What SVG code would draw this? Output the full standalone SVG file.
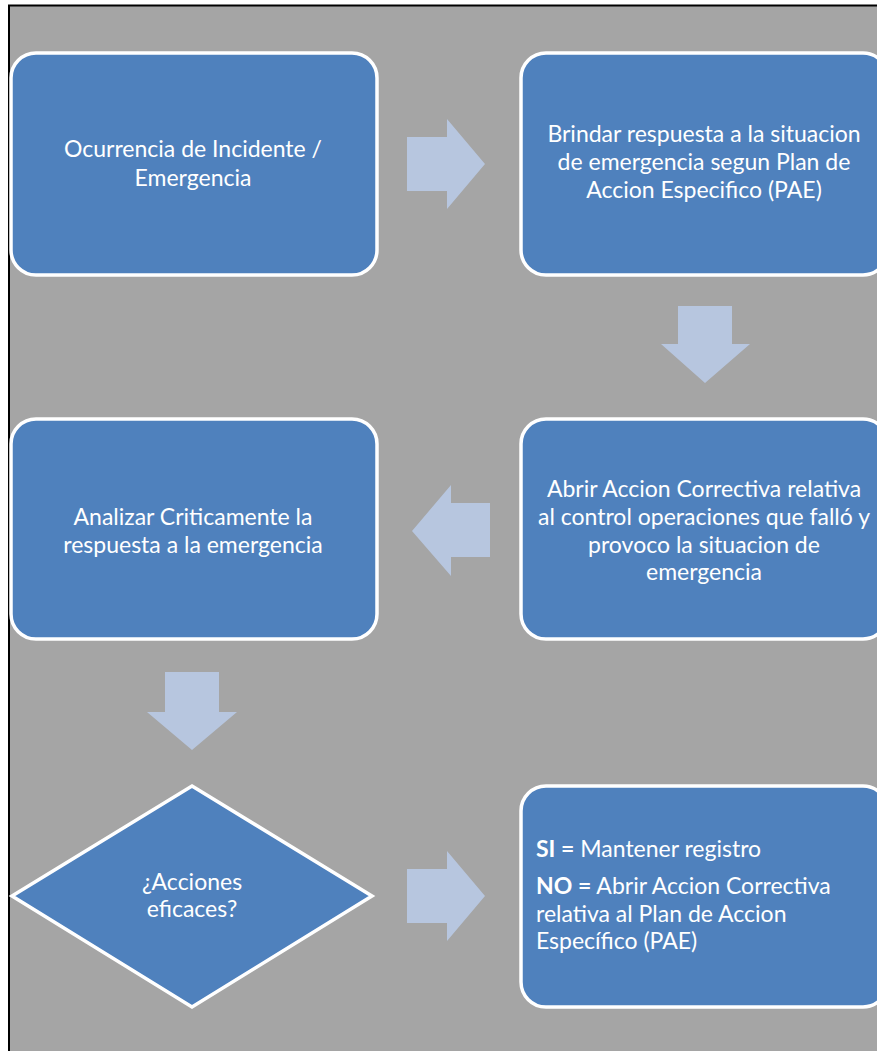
<svg xmlns="http://www.w3.org/2000/svg" width="877" height="1051" viewBox="0 0 877 1051">
  <defs>
    <style>
      .box { fill: #4F81BD; stroke: #FFFFFF; stroke-width: 3.5; }
      .arrow { fill: #B7C6DF; }
      .lbl { font-family: Lato, "Liberation Sans", sans-serif; font-size: 23px; fill: #FFFFFF; text-anchor: middle; }
      .lbl-left { font-family: Lato, "Liberation Sans", sans-serif; font-size: 23px; fill: #FFFFFF; }
      .b { font-weight: bold; }
    </style>
  </defs>

  <!-- canvas and frame -->
  <rect x="0" y="0" width="877" height="1051" fill="#FFFFFF"/>
  <rect x="9" y="5.5" width="868" height="1045.5" fill="#A5A5A5"/>
  <line x1="8" y1="5.5" x2="877" y2="5.5" stroke="#000000" stroke-width="2"/>
  <line x1="9" y1="5" x2="9" y2="1051" stroke="#000000" stroke-width="2"/>

  <!-- connectors: block arrows -->
  <g id="connectors">
    <polygon class="arrow" points="407,137 447,137 447,119 485,164 447,209 447,191 407,191"/>
    <polygon class="arrow" points="678,306 732,306 732,344 750,344 705,383 661,344 678,344"/>
    <polygon class="arrow" points="490,503 451,503 451,485 412,531 451,576 451,557 490,557"/>
    <polygon class="arrow" points="165,672 219,672 219,712 237,712 192,750 147,712 165,712"/>
    <polygon class="arrow" points="407,869 447,869 447,851 485,896 447,941 447,923 407,923"/>
  </g>

  <g id="node-ocurrencia">
    <rect class="box" x="11" y="53" width="366" height="222" rx="25" ry="25"/>
    <text class="lbl" x="193" y="157">Ocurrencia de Incidente /</text>
    <text class="lbl" x="193" y="186">Emergencia</text>
  </g>

  <g id="node-brindar">
    <rect class="box" x="521" y="53" width="367" height="222" rx="25" ry="25"/>
    <text class="lbl" x="704" y="142">Brindar respuesta a la situacion</text>
    <text class="lbl" x="704" y="170">de emergencia segun Plan de</text>
    <text class="lbl" x="704" y="198">Accion Especifico (PAE)</text>
  </g>

  <g id="node-abrir">
    <rect class="box" x="521" y="419" width="367" height="220" rx="25" ry="25"/>
    <text class="lbl" x="704" y="497">Abrir Accion Correctiva relativa</text>
    <text class="lbl" x="704" y="525">al control operaciones que falló y</text>
    <text class="lbl" x="704" y="553">provoco la situacion de</text>
    <text class="lbl" x="704" y="580">emergencia</text>
  </g>

  <g id="node-analizar">
    <rect class="box" x="11" y="419" width="366" height="220" rx="25" ry="25"/>
    <text class="lbl" x="193" y="525">Analizar Criticamente la</text>
    <text class="lbl" x="193" y="553">respuesta a la emergencia</text>
  </g>

  <g id="node-decision">
    <polygon class="box" points="192,786 372,896 192,1007 12,896"/>
    <text class="lbl" x="192" y="890">¿Acciones</text>
    <text class="lbl" x="192" y="917">eficaces?</text>
  </g>

  <g id="node-resultado">
    <rect class="box" x="521" y="786" width="367" height="221" rx="25" ry="25"/>
    <text class="lbl-left" x="536" y="857"><tspan class="b">SI =</tspan> Mantener registro</text>
    <text class="lbl-left" x="536" y="894"><tspan class="b">NO =</tspan> Abrir Accion Correctiva</text>
    <text class="lbl-left" x="536" y="922">relativa al Plan de Accion</text>
    <text class="lbl-left" x="536" y="949">Específico (PAE)</text>
  </g>
</svg>
